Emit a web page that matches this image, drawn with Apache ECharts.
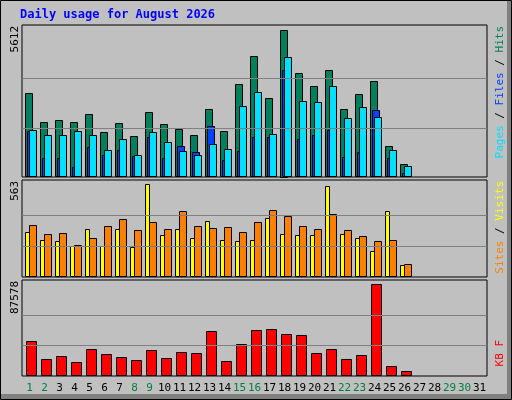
<!DOCTYPE html>
<html><head><meta charset="utf-8">
<script src="https://cdn.jsdelivr.net/npm/echarts@6/dist/echarts.min.js"></script>
<style>html,body{margin:0;padding:0;background:#C0C0C0}#c{width:512px;height:400px}</style>
</head><body><div id="c"></div>
<script>
const days = Array.from({length:31},(_,i)=>String(i+1));
const weekendDays = [1,2,8,9,15,16,22,23,29,30];
const hits  = [3212,2108,2184,2108,2412,1727,2070,1574,2489,2031,1841,1612,2603,1765,3555,4622,3022,5612,3974,3479,4088,2603,3174,3669,1194,508,0,0,0,0,0];
const files = [1765,736,736,394,1155,851,1041,813,1536,736,1194,965,1955,660,1003,1536,1536,4088,1460,1612,1803,774,965,2565,736,165,0,0,0,0,0];
const pages = [1803,1612,1612,1765,1612,1041,1460,851,1727,1346,1003,851,1270,1079,2717,3250,1651,4584,2908,2870,3479,2260,2679,2298,1041,432,0,0,0,0,0];
const visits= [275,221,215,190,288,190,288,184,563,257,288,239,336,227,215,227,360,263,257,257,549,263,239,160,397,75,0,0,0,0,0];
const sites = [312,263,269,196,239,306,354,282,330,288,397,306,294,300,275,330,403,367,306,288,379,282,251,215,221,81,0,0,0,0,0];
const kbytes= [33120,15923,18789,13057,25477,20700,17834,14968,24522,16879,22611,21656,42674,14012,30254,43629,44585,39808,38853,21656,25477,15923,19745,87578,9236,4459,0,0,0,0,0];
const maxLabels = ['5612','563','87578'];
const titleText = 'Daily usage for August 2026';

const font = 'DejaVu Sans Mono';
const chart = echarts.init(document.getElementById('c'));
const grids = [
  {left:22, top:25, width:465, height:152, max:5612*152/147.5, top0:5612},
  {left:22, top:180, width:465, height:97, max:563*97/93, top0:563},
  {left:22, top:280, width:465, height:96, max:87578*96/91.7, top0:87578}
];
function barSeries(gi, data, color, off, w){
  return {type:'custom', xAxisIndex:gi, yAxisIndex:gi, data:data.map((v,i)=>[i,v]),
    renderItem:(p,api)=>{
      const v=api.value(1); if(!v) return null;
      const top=api.coord([api.value(0),v]); const base=api.coord([api.value(0),0]);
      return {type:'rect', shape:{x:Math.round(top[0]+off)+0.5, y:Math.round(top[1])+0.5, width:w-1, height:Math.round(base[1]-top[1])-1},
        style:{fill:color, stroke:'#000', lineWidth:1}};
    }};
}
function gridLines(gi){
  const t=grids[gi].top0;
  return {type:'line', xAxisIndex:gi, yAxisIndex:gi, data:[], silent:true,
    markLine:{symbol:'none', silent:true, label:{show:false}, lineStyle:{color:'#808080', type:'solid', width:1},
      data:[{yAxis:t/3},{yAxis:2*t/3}]}, z:1};
}
const option = {
  animation:false,
  backgroundColor:'#C0C0C0',
  grid: grids.map(g=>({left:g.left, top:g.top, width:g.width, height:g.height, show:true, backgroundColor:'#C0C0C0', borderColor:'#000', borderWidth:1})),
  xAxis: grids.map((g,i)=>({type:'category', gridIndex:i, data:days, boundaryGap:true,
    axisLine:{show:false}, axisTick:{show:false},
    axisLabel:{show:i===2, interval:0, margin:7, fontFamily:font, fontSize:11,
      formatter:v=>weekendDays.includes(+v)?'{w|'+v+'}':'{d|'+v+'}',
      rich:{w:{color:'#008040',fontFamily:font,fontSize:11},d:{color:'#000',fontFamily:font,fontSize:11}}}})),
  yAxis: grids.map((g,i)=>({type:'value', gridIndex:i, min:0, max:g.max, splitLine:{show:false}, axisLabel:{show:false}, axisLine:{show:false}, axisTick:{show:false}})),
  series:[
    gridLines(0), gridLines(1), gridLines(2),
    barSeries(0,hits,'#00805C',-4.5,8),
    barSeries(0,files,'#0040FF',-2.5,8),
    barSeries(0,pages,'#00E0FF',-0.5,8),
    barSeries(1,visits,'#FFFF00',-4.5,5),
    barSeries(1,sites,'#FF8000',-0.5,8),
    barSeries(2,kbytes,'#FF0000',-3.5,11)
  ],
  graphic:[
    {type:'rect', shape:{x:0.5,y:0.5,width:511,height:399}, style:{fill:null, stroke:'#000', lineWidth:1}, z:100},
    {type:'rect', shape:{x:1,y:394,width:510,height:5}, style:{fill:'#808080'}, z:99},
    {type:'rect', shape:{x:507,y:1,width:4,height:398}, style:{fill:'#808080'}, z:99},
    {type:'text', x:20, y:15, style:{text:titleText, fill:'#0000FF', font:'bold 12px '+font, textVerticalAlign:'middle'}},
    {type:'text', x:15, y:26, rotation:Math.PI/2, style:{text:maxLabels[0], fill:'#000', font:'11px '+font, textAlign:'right', textVerticalAlign:'middle'}},
    {type:'text', x:15, y:181, rotation:Math.PI/2, style:{text:maxLabels[1], fill:'#000', font:'11px '+font, textAlign:'right', textVerticalAlign:'middle'}},
    {type:'text', x:15, y:281, rotation:Math.PI/2, style:{text:maxLabels[2], fill:'#000', font:'11px '+font, textAlign:'right', textVerticalAlign:'middle'}},
    {type:'text', x:500, y:26, rotation:Math.PI/2, style:{text:'{p|Pages}{s| / }{f|Files}{s| / }{h|Hits}', textAlign:'right', textVerticalAlign:'middle',
      rich:{p:{fill:'#00E0FF',font:'11px '+font},f:{fill:'#0040FF',font:'11px '+font},h:{fill:'#00805C',font:'11px '+font},s:{fill:'#000',font:'11px '+font}}}},
    {type:'text', x:500, y:181, rotation:Math.PI/2, style:{text:'{a|Sites}{s| / }{b|Visits}', textAlign:'right', textVerticalAlign:'middle',
      rich:{a:{fill:'#FF8000',font:'11px '+font},b:{fill:'#FFFF00',font:'11px '+font},s:{fill:'#000',font:'11px '+font}}}},
    {type:'text', x:500, y:340, rotation:Math.PI/2, style:{text:'KB F', fill:'#FF0000', font:'11px '+font, textAlign:'right', textVerticalAlign:'middle'}}
  ]
};
chart.setOption(option);
</script></body></html>
